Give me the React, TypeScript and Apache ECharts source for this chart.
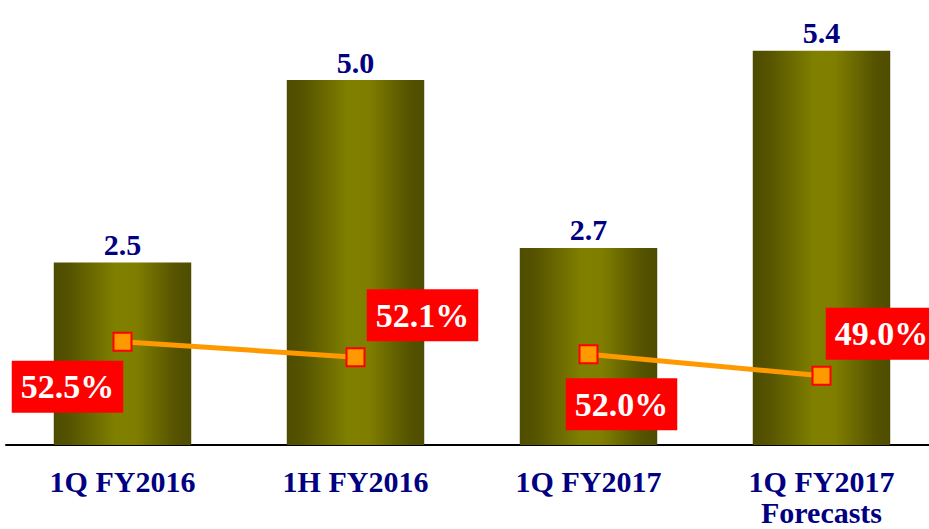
import React, { useEffect, useRef } from "react";
import * as echarts from "echarts";

const categories = ["1Q FY2016", "1H FY2016", "1Q FY2017", "1Q FY2017\nForecasts"];
const revenue = [2.5, 5.0, 2.7, 5.4];
const marginFY2016 = [52.5, 52.1, null, null];
const marginFY2017 = [null, null, 52.0, 49.0];

const labelOffsets: [number, number][] = [
  [-55, 45],
  [67, -42],
  [33, 50],
  [60, -42],
];

const FONT = "'Liberation Serif', 'Times New Roman', serif";
const NAVY = "#000080";

export default function App() {
  const ref = useRef<HTMLDivElement>(null);
  useEffect(() => {
    if (!ref.current) return;
    const chart = echarts.init(ref.current, undefined, { renderer: "svg" });
    const barGradient = new echarts.graphic.LinearGradient(0, 0, 1, 0, [
      { offset: 0, color: "#4e4c00" },
      { offset: 0.12, color: "#565400" },
      { offset: 0.45, color: "#808000" },
      { offset: 0.6, color: "#7f7e00" },
      { offset: 0.88, color: "#565400" },
      { offset: 1, color: "#4e4c00" },
    ]);
    const lineLabel = (idx: number) => ({
      show: true,
      position: "inside",
      offset: labelOffsets[idx],
      formatter: (p: any) => Number(p.value).toFixed(1) + "%",
      backgroundColor: "#FF0000",
      color: "#ffffff",
      fontFamily: FONT,
      fontWeight: "bold",
      fontSize: 34,
      lineHeight: 36,
      padding: [8, 9, 8, 9],
    });
    const mkLineData = (arr: (number | null)[]) =>
      arr.map((v, i) => (v == null ? null : { value: v, label: lineLabel(i) }));
    const lineCommon = {
      type: "line",
      symbol: "rect",
      symbolSize: 18,
      lineStyle: { color: "#FF9900", width: 5 },
      itemStyle: { color: "#FF9900", borderColor: "#FF0000", borderWidth: 2 },
      z: 5,
    };
    chart.setOption({
      animation: false,
      grid: {
        left: 6,
        width: 932,
        top: 7,
        bottom: 84,
        containLabel: false,
        outerBoundsMode: "none",
      },
      xAxis: {
        type: "category",
        data: categories,
        axisLine: { show: true, lineStyle: { color: "#000", width: 2 } },
        axisTick: { show: false },
        axisLabel: {
          color: NAVY,
          fontFamily: FONT,
          fontWeight: "bold",
          fontSize: 30,
          lineHeight: 31,
          margin: 21,
          interval: 0,
        },
      },
      yAxis: [
        { type: "value", min: 0, max: 6, show: false, splitLine: { show: false } },
        { type: "value", min: 49.85, max: 61.08, show: false, splitLine: { show: false } },
        { type: "value", min: 39.28, max: 100.71, show: false, splitLine: { show: false } },
      ],
      series: [
        {
          type: "bar",
          data: revenue,
          barWidth: "59%",
          itemStyle: { color: barGradient },
          label: {
            show: true,
            position: "top",
            distance: 3,
            formatter: (p: any) => Number(p.value).toFixed(1),
            color: NAVY,
            fontFamily: FONT,
            fontWeight: "bold",
            fontSize: 30,
          },
        },
        { ...lineCommon, yAxisIndex: 1, data: mkLineData(marginFY2016) },
        { ...lineCommon, yAxisIndex: 2, data: mkLineData(marginFY2017) },
      ],
    });
    return () => chart.dispose();
  }, []);
  return <div ref={ref} style={{ width: 929, height: 529, position: "absolute", left: 0, top: 0 }} />;
}
